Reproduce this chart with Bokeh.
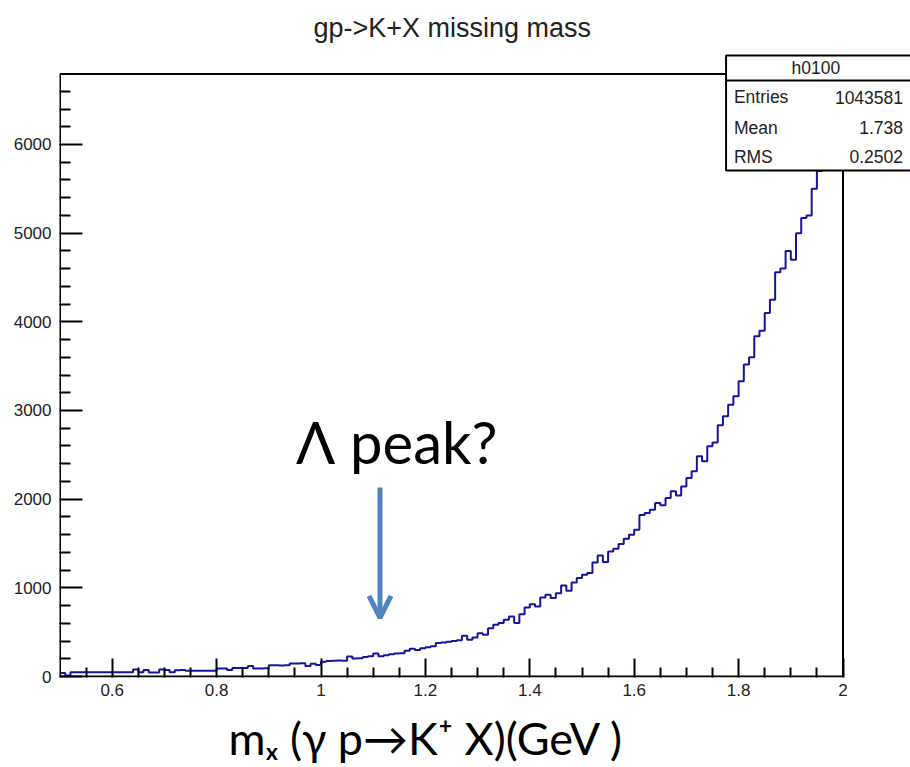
import numpy as np
from bokeh.plotting import figure
from bokeh.models import Range1d, FixedTicker, Label, Arrow, OpenHead, ColumnDataSource, Title
from bokeh.core.properties import value
from bokeh.embed import file_html
from bokeh.resources import INLINE

# ---------------- data ----------------
x_low, x_high, n_bins = 0.5, 2.0, 150
counts = [
    40, 12, 48, 48, 47, 47, 48, 47, 48, 47,
    48, 48, 47, 48, 79, 48, 72, 44, 45, 79,
    72, 47, 70, 72, 65, 66, 65, 66, 65, 66,
    90, 90, 72, 97, 96, 97, 119, 90, 91, 92,
    126, 126, 125, 127, 148, 148, 150, 119, 144, 130,
    165, 175, 177, 180, 178, 226, 203, 205, 220, 228,
    260, 228, 240, 250, 260, 262, 290, 312, 300, 318,
    330, 340, 378, 384, 392, 400, 410, 460, 415, 440,
    489, 472, 545, 583, 602, 640, 677, 602, 703, 779,
    816, 790, 892, 922, 884, 940, 1027, 967, 1060, 1110,
    1148, 1166, 1287, 1366, 1290, 1411, 1441, 1493, 1554, 1599,
    1656, 1820, 1843, 1881, 1956, 1930, 2012, 2088, 2040, 2144,
    2238, 2314, 2483, 2427, 2596, 2640, 2833, 2935, 3066, 3160,
    3330, 3518, 3600, 3837, 3900, 4100, 4250, 4560, 4600, 4800,
    4700, 5000, 5170, 5200, 5500, 5700, 5950, 6100, 6300, 6470,
]
edges = np.round(np.linspace(x_low, x_high, n_bins + 1), 4)

x_major = [0.6, 0.8, 1.0, 1.2, 1.4, 1.6, 1.8, 2.0]
x_minor = [0.55, 0.65, 0.7, 0.75, 0.85, 0.9, 0.95, 1.05, 1.1, 1.15,
           1.25, 1.3, 1.35, 1.45, 1.5, 1.55, 1.65, 1.7, 1.75, 1.85, 1.9, 1.95]
y_major = [0, 1000, 2000, 3000, 4000, 5000, 6000]
y_minor = [200, 400, 600, 800, 1200, 1400, 1600, 1800, 2200, 2400, 2600, 2800,
           3200, 3400, 3600, 3800, 4200, 4400, 4600, 4800, 5200, 5400, 5600,
           5800, 6200, 6400, 6600]
y_frame_top = 6794

title_text = "gp->K+X missing mass"
xaxis_title = "mₓ (γ p→K⁺ X)(GeV )"
note_text = "Λ peak?"
stats_name = "h0100"
stats_labels = ["Entries", "Mean", "RMS"]
stats_values = ["1043581", "1.738", "0.2502"]

# ---------------- layout ----------------
W, H = 910, 767
B_LEFT, B_TOP, B_BOTTOM = 59, 50, 90
PX_X = 522.0      # pixels per x unit
PX_Y = 0.08867    # pixels per count
frame_w = W - B_LEFT
frame_h = H - B_TOP - B_BOTTOM
x_start = x_low - 0.5 / PX_X
x_end = x_start + frame_w / PX_X
y_start = -1.0 / PX_Y
y_end = y_start + frame_h / PX_Y

p = figure(width=W, height=H, output_backend="svg", toolbar_location=None,
           x_range=Range1d(x_start, x_end), y_range=Range1d(y_start, y_end),
           min_border_left=B_LEFT, min_border_right=0,
           min_border_top=B_TOP, min_border_bottom=B_BOTTOM)
p.outline_line_color = None
p.xgrid.visible = False
p.ygrid.visible = False
p.background_fill_color = "white"
p.border_fill_color = "white"

FONT = "Liberation Sans"

# title (above) and x-axis title (below)
p.title = Title(text=title_text, align="left", offset=254, text_font=FONT,
                text_font_size="27px", text_font_style="normal",
                text_color="#222222", standoff=16)
p.add_layout(Title(text=xaxis_title, align="left", offset=169, text_font="Lato",
                   text_font_size="45px", text_font_style="normal",
                   text_color="black", standoff=0), "below")

for ax in (p.xaxis[0], p.yaxis[0]):
    ax.axis_line_color = None
    ax.major_tick_out = 0
    ax.minor_tick_out = 0
    ax.major_tick_line_color = "black"
    ax.minor_tick_line_color = "black"
    ax.major_tick_line_width = 2
    ax.minor_tick_line_width = 2
    ax.major_label_text_font = FONT
    ax.major_label_text_font_size = "17px"
    ax.major_label_text_color = "#222222"

p.xaxis.ticker = FixedTicker(ticks=x_major, minor_ticks=x_minor)
p.xaxis.major_label_overrides = {t: ("1" if t == 1.0 else "2" if t == 2.0 else f"{t:.1f}") for t in x_major}
p.xaxis.major_tick_in = 19
p.xaxis.minor_tick_in = 10
p.xaxis.major_label_standoff = 6
# blank spacer label: pushes the x-axis title (below) down a few pixels
p.xaxis.axis_label = " "
p.xaxis.axis_label_text_font_size = "5px"
p.xaxis.axis_label_standoff = 1

p.yaxis.ticker = FixedTicker(ticks=y_major, minor_ticks=y_minor)
p.yaxis.major_tick_in = 23
p.yaxis.minor_tick_in = 11
p.yaxis.major_label_standoff = 8

# histogram
src = ColumnDataSource(dict(x=list(edges), y=counts + [counts[-1]]))
p.step(x="x", y="y", source=src, mode="after", line_color="#1414a0", line_width=2)

# frame box
p.quad(left=[x_low], right=[x_high], bottom=[0], top=[y_frame_top],
       fill_color=None, line_color="black", line_width=2)

# stats box
sb_left, sb_right, sb_top, sb_bottom, sb_head = 1.776, 2.3, 7004, 5707, 6722
p.quad(left=[sb_left], right=[sb_right], bottom=[sb_bottom], top=[sb_top],
       fill_color="white", line_color="black", line_width=2)
p.segment(x0=[sb_left], y0=[sb_head], x1=[sb_right], y1=[sb_head],
          line_color="black", line_width=2)
p.text(x=[1.948], y=[6860], text=[stats_name], text_font=value(FONT),
       text_font_size="17.5px", text_align="center", text_baseline="middle",
       text_color="#222222")
row_y = [6530, 6191, 5864]
p.text(x=[1.791] * 3, y=row_y, text=stats_labels, text_font=value(FONT),
       text_font_size="17.5px", text_align="left", text_baseline="middle",
       text_color="#222222")
p.text(x=[2.115] * 3, y=row_y, text=stats_values, text_font=value(FONT),
       text_font_size="17.5px", text_align="right", text_baseline="middle",
       text_color="#222222")

# annotation
p.add_layout(Label(x=0.952, y=2650, text=note_text, text_font="Lato",
                   text_font_size="58px", text_align="left",
                   text_baseline="alphabetic", text_color="black"))
ARROW_COLOR = "#5183bf"
p.add_layout(Arrow(x_start=1.113, y_start=2131, x_end=1.113, y_end=660,
                   line_color=ARROW_COLOR, line_width=5,
                   end=OpenHead(size=22, line_width=5, line_color=ARROW_COLOR)))

open("out.html", "w").write(file_html(p, INLINE))
